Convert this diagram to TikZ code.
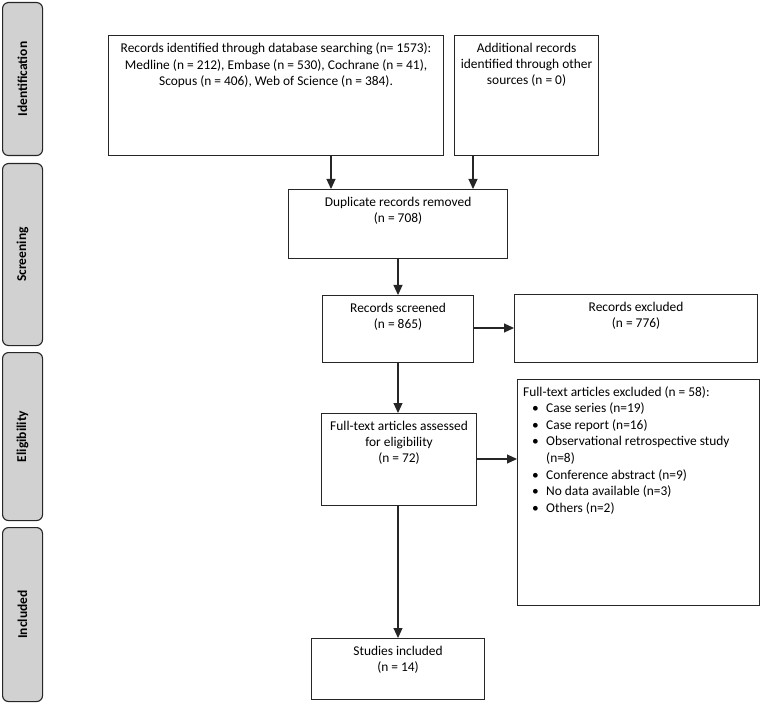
\documentclass[tikz,border=0pt]{standalone}
\usepackage{fontspec}
\setmainfont{Carlito}
\usetikzlibrary{arrows.meta}
\newcommand\blt{\hspace*{9pt}\makebox[14pt][l]{\textbullet}}
\newcommand\cnt{\hspace*{23pt}}
\begin{document}
\begin{tikzpicture}[x=1pt,y=-1pt,
  box/.style={draw=black!85, line width=1.1pt, anchor=north west, inner sep=0pt},
  txt/.style={font=\fontsize{13.4}{16.2}\selectfont, align=center, anchor=north, inner sep=0pt},
  phase/.style={draw=black!85, fill=black!18, line width=1.1pt, rounded corners=6pt, anchor=north west, minimum width=40pt, inner sep=0pt},
  phtxt/.style={font=\fontsize{13.5}{16}\selectfont\bfseries, rotate=90, inner sep=0pt},
  arr/.style={line width=1.1pt, draw=black!85, -{Triangle[length=10pt,width=9pt]}},
  ln/.style={line width=1.1pt, draw=black!85}]
\useasboundingbox (0,0) rectangle (760,703);
% phases
\node[phase, minimum height=153pt] (p1) at (2,2) {};
\node[phtxt] (p1t) at (p1.center) {Identification};
\node[phase, minimum height=182pt] (p2) at (2,163) {};
\node[phtxt] (p2t) at (p2.center) {Screening};
\node[phase, minimum height=168pt] (p3) at (2,352) {};
\node[phtxt] (p3t) at (p3.center) {Eligibility};
\node[phase, minimum height=174pt] (p4) at (2,527) {};
\node[phtxt] (p4t) at (p4.center) {Included};
% boxes
\node[box, minimum width=335pt, minimum height=120pt] (db) at (108,35) {};
\node[txt] (dbt) at ([yshift=-8pt]db.north) {Records identified through database searching (n= 1573):\\Medline (n = 212), Embase (n = 530), Cochrane (n = 41),\\Scopus (n = 406), Web of Science (n = 384).};
\node[box, minimum width=144pt, minimum height=120pt] (ad) at (454,35) {};
\node[txt] (adt) at ([yshift=-8pt]ad.north) {Additional records\\identified through other\\sources (n = 0)};
\node[box, minimum width=219pt, minimum height=69pt] (dup) at (288,189) {};
\node[txt] (dupt) at ([yshift=-8pt]dup.north) {Duplicate records removed\\(n = 708)};
\node[box, minimum width=151pt, minimum height=67pt] (scr) at (322,295) {};
\node[txt] (scrt) at ([yshift=-8pt]scr.north) {Records screened\\(n = 865)};
\node[box, minimum width=243pt, minimum height=68pt] (rex) at (514,294) {};
\node[txt] (rext) at ([yshift=-8pt]rex.north) {Records excluded\\(n = 776)};
\node[box, minimum width=155pt, minimum height=92pt] (ft) at (321,413) {};
\node[txt] (ftt) at ([yshift=-8pt]ft.north) {Full-text articles assessed\\for eligibility\\(n = 72)};
\node[box, minimum width=242pt, minimum height=226pt] (fex) at (517,379) {};
\node[txt, align=left, anchor=north west, font=\fontsize{13.4}{16.6}\selectfont] (fext) at ([xshift=6pt,yshift=-7pt]fex.north west) {Full-text articles excluded (n = 58):\\
\blt Case series (n=19)\\
\blt Case report (n=16)\\
\blt Observational retrospective study\\
\cnt (n=8)\\
\blt Conference abstract (n=9)\\
\blt No data available (n=3)\\
\blt Others (n=2)};
\node[box, minimum width=173pt, minimum height=61pt] (inc) at (311,638) {};
\node[txt] (inct) at ([yshift=-8pt]inc.north) {Studies included\\(n = 14)};
% connectors
\draw[arr] (db.south -| 331,0) -- (dup.north -| 331,0);
\draw[arr] (ad.south -| 473,0) -- (dup.north -| 473,0);
\draw[arr] (dup.south -| 398,0) -- (scr.north -| 398,0);
\draw[arr] (scr.east |- 0,328) -- (rex.west |- 0,328);
\draw[arr] (scr.south -| 398,0) -- (ft.north -| 398,0);
\draw[arr] (ft.east |- 0,459) -- (fex.west |- 0,459);
\draw[arr] (ft.south -| 398,0) -- (inc.north -| 398,0);
\end{tikzpicture}
\end{document}
